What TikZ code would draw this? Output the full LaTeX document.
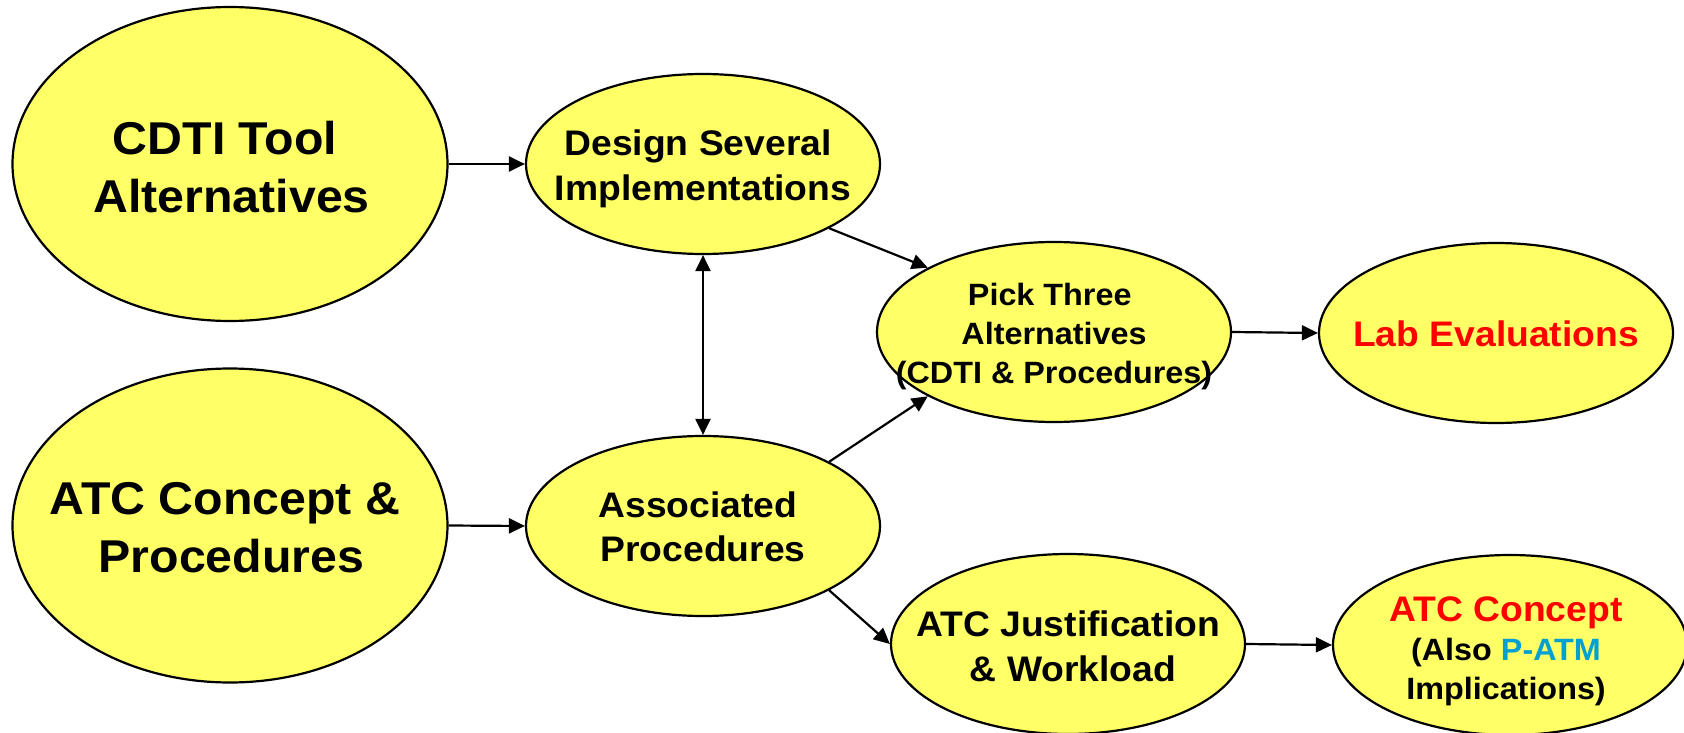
\documentclass[tikz,border=0pt]{standalone}
\usepackage{fontspec}
\setmainfont{Liberation Sans}[FakeStretch=1.05]
\usetikzlibrary{shapes.geometric,arrows.meta}
\definecolor{fillyellow}{RGB}{255,255,102}
\definecolor{patmblue}{RGB}{0,160,210}
\definecolor{labred}{RGB}{255,0,0}
\newcommand{\trsp}{\hspace*{0.278em}}
\tikzset{
  oval/.style={ellipse, draw=black, line width=2.2pt, fill=fillyellow, inner sep=0pt},
  bigoval/.style={oval, minimum width=435pt, minimum height=314pt},
  smalloval/.style={oval, minimum width=354pt, minimum height=180pt},
  bigtext/.style={align=center, inner sep=0pt, font=\fontsize{46}{57.7}\selectfont\bfseries},
  midtext/.style={align=center, inner sep=0pt, font=\fontsize{35.5}{44.5}\selectfont\bfseries},
  smltext/.style={align=center, inner sep=0pt, font=\fontsize{30.8}{38.8}\selectfont\bfseries},
  conn/.style={line width=2.2pt, -{Triangle[length=16pt,width=15pt]}},
  bconn/.style={line width=2.2pt, {Triangle[length=16pt,width=15pt]}-{Triangle[length=16pt,width=15pt]}},
}
\begin{document}
\begin{tikzpicture}[x=1pt,y=-1pt]
\useasboundingbox (0,0) rectangle (1684,733);
% ellipses
\node[bigoval] (cdti) at (230,164) {};
\node[bigoval] (atccp) at (230,525.5) {};
\node[smalloval] (design) at (703,164) {};
\node[smalloval] (assoc) at (703,526) {};
\node[smalloval] (pick) at (1054,332) {};
\node[smalloval] (lab) at (1496,333) {};
\node[smalloval] (just) at (1068,644) {};
\node[smalloval] (concept) at (1510,645) {};
% connectors
\draw[conn] (cdti.east) -- (design.west);
\draw[conn] (atccp.east) -- (assoc.west);
\draw[bconn] (design.south) -- (assoc.north);
\draw[conn] (design.-27) -- (pick.153);
\draw[conn] (assoc.27) -- (pick.207);
\draw[conn] (pick.east) -- (lab.west);
\draw[conn] (assoc.-27) -- (just.west);
\draw[conn] (just.east) -- (concept.west);
% texts
\node[bigtext] (cdtiT) at (231.5,167) {CDTI Tool\trsp\\Alternatives};
\node[bigtext] (atccpT) at (231.5,527.5) {ATC Concept \&\trsp\\Procedures};
\node[midtext] (designT) at (703,169) {Design Several\trsp\\Implementations};
\node[midtext] (assocT) at (703,526.7) {Associated\trsp\\Procedures};
\node[smltext] (pickT) at (1054,336.5) {Pick Three\trsp\\Alternatives\\(CDTI \& Procedures)};
\node[midtext, text=labred] (labT) at (1496,334) {Lab Evaluations};
\node[midtext] (justT) at (1073,646.5) {ATC Justification\trsp\\\& Workload};
\node[smltext] (conceptT) at (1506,651.5) {{\fontsize{35.5}{38.8}\selectfont\color{labred}ATC Concept}\\(Also \textcolor{patmblue}{P-ATM}\\Implications)};
\end{tikzpicture}
\end{document}
